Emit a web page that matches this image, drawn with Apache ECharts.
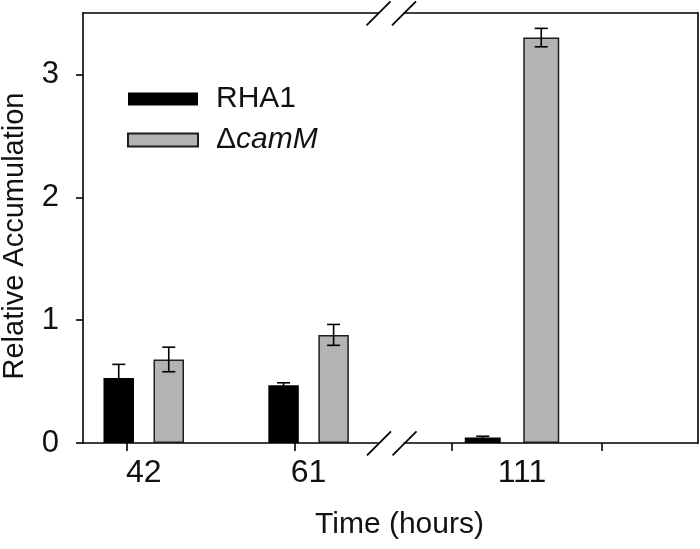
<!DOCTYPE html>
<html><head><meta charset="utf-8">
<script src="https://cdn.jsdelivr.net/npm/echarts@6/dist/echarts.min.js"></script>
<style>html,body{margin:0;padding:0;background:#fff}#c{width:700px;height:549px}</style>
</head><body><div id="c"></div>
<script>
// ---- data ----
const seriesNames = ['RHA1', 'ΔcamM'];
const hoursLeft = [42, 61];
const hoursRight = [111];
const rha1Left = [0.53, 0.47];
const rha1LeftErr = [0.11, 0.02];
const camMLeft = [0.68, 0.88];
const camMLeftErr = [0.10, 0.085];
const rha1Right = [0.045];
const rha1RightErr = [0.01];
const camMRight = [3.30];
const camMRightErr = [0.075];
const yTicks = [0, 1, 2, 3];
const tickHoursLeft = [40, 59.4];
const tickHoursRight = [101, 126];

// ---- styles ----
const FONT = "'Liberation Sans', Arial, sans-serif";
const INK = '#111';
const GRAY = '#b3b3b3';
const LW = 1.6;
const capHalf = 6.5;
const barWLeft = 30.5, gapLeft = 0.64;
const barWRight = 36, gapRight = 0.625;
const offLeft = barWLeft * (1 + gapLeft) / 2;
const offRight = barWRight * (1 + gapRight) / 2;

function pairs(xs, ys) { return xs.map((x, i) => [x, ys[i]]); }
function triples(xs, ys, es) { return xs.map((x, i) => [x, ys[i], es[i]]); }

function errRender(offset) {
  return function (params, api) {
    const x = api.value(0), y = api.value(1), e = api.value(2);
    const hi = api.coord([x, y + e]);
    const lo = api.coord([x, y - e]);
    const cx = hi[0] + offset;
    const style = { stroke: '#000', lineWidth: LW };
    return { type: 'group', children: [
      { type: 'line', shape: { x1: cx, y1: hi[1], x2: cx, y2: lo[1] }, style },
      { type: 'line', shape: { x1: cx - capHalf, y1: hi[1], x2: cx + capHalf, y2: hi[1] }, style },
      { type: 'line', shape: { x1: cx - capHalf, y1: lo[1], x2: cx + capHalf, y2: lo[1] }, style }
    ]};
  };
}

const lineStyle = { color: '#000', width: LW };
function frameAxis(gridIndex, min, max) {
  return { type: 'value', gridIndex, position: 'top', min, max,
    axisLine: { show: true, onZero: false, lineStyle }, axisTick: { show: false },
    axisLabel: { show: false }, splitLine: { show: false } };
}
function bottomAxis(gridIndex, min, max, ticks, labels, shift) {
  return { type: 'value', gridIndex, position: 'bottom', min, max,
    axisLine: { show: true, onZero: false, lineStyle },
    axisTick: { show: true, length: 8, lineStyle, customValues: ticks },
    axisLabel: { show: true, customValues: labels, color: INK, margin: 14,
      formatter: v => '{t|' + v + '}',
      rich: { t: { fontSize: 32, color: INK, fontFamily: FONT, padding: [0, 0, 0, shift] } } },
    splitLine: { show: false } };
}

const chart = echarts.init(document.getElementById('c'), null, { renderer: 'canvas' });
const grid = (left, right) => ({ left, right, top: 13, bottom: 106, containLabel: false, outerBoundsMode: 'none' });

chart.setOption({
  animation: false,
  backgroundColor: '#fff',
  textStyle: { fontFamily: FONT },
  grid: [grid(83, 322), grid(404, 2)],
  xAxis: [
    bottomAxis(0, 35, 69, tickHoursLeft, hoursLeft, 0),
    frameAxis(0, 35, 69),
    bottomAxis(1, 93, 142, tickHoursRight, hoursRight, 20),
    frameAxis(1, 93, 142)
  ],
  yAxis: [
    { type: 'value', gridIndex: 0, min: 0, max: 3.5, position: 'left',
      axisLine: { show: true, onZero: false, lineStyle },
      axisTick: { show: true, length: 7, lineStyle, customValues: yTicks },
      axisLabel: { show: true, customValues: yTicks, fontSize: 31, color: INK, fontFamily: FONT, margin: 24 },
      splitLine: { show: false },
      name: 'Relative Accumulation', nameLocation: 'middle', nameGap: 54,
      nameTextStyle: { fontSize: 29, color: INK, fontFamily: FONT, padding: [0, 16, 0, 0] } },
    { type: 'value', gridIndex: 1, min: 0, max: 3.5, position: 'right',
      axisLine: { show: true, onZero: false, lineStyle }, axisTick: { show: false },
      axisLabel: { show: false }, splitLine: { show: false } }
  ],
  legend: {
    data: seriesNames, orient: 'vertical', left: 127, top: 84, padding: 0,
    itemWidth: 70, itemHeight: 13, itemGap: 11, selectedMode: false, icon: 'rect',
    formatter: function (n) { return n === 'ΔcamM' ? '{d|Δ}{i|camM}' : '{d|' + n + '}'; },
    textStyle: { fontSize: 30, color: INK, fontFamily: FONT, lineHeight: 28, padding: [0, 0, 0, 13],
      rich: { d: { fontSize: 30, color: INK, fontFamily: FONT }, i: { fontSize: 30, fontStyle: 'italic', color: INK, fontFamily: FONT } } }
  },
  graphic: [
    [378.5, 13.3], [404, 13.3], [379, 443.3], [404.5, 443.3]
  ].map(p => ({ type: 'line', silent: true, z: 100,
    shape: { x1: p[0] - 12, y1: p[1] + 12, x2: p[0] + 12, y2: p[1] - 12 },
    style: { stroke: '#000', lineWidth: 1.8 } })).concat([
    { type: 'text', silent: true,
      style: { text: 'Time (hours)', x: 399.5, y: 525, align: 'center', verticalAlign: 'middle', fontSize: 30, fill: INK, fontFamily: FONT } }
  ]),
  series: [
    { name: 'RHA1', type: 'bar', xAxisIndex: 0, yAxisIndex: 0, data: pairs(hoursLeft, rha1Left),
      barWidth: barWLeft, barGap: (gapLeft * 100) + '%', itemStyle: { color: '#000', borderWidth: 0 } },
    { name: 'ΔcamM', type: 'bar', xAxisIndex: 0, yAxisIndex: 0, data: pairs(hoursLeft, camMLeft),
      barWidth: barWLeft, barGap: (gapLeft * 100) + '%', itemStyle: { color: GRAY, borderColor: '#1e1e1e', borderWidth: 1.5 } },
    { name: 'RHA1', type: 'bar', xAxisIndex: 2, yAxisIndex: 1, data: pairs(hoursRight, rha1Right),
      barWidth: barWRight, barGap: (gapRight * 100) + '%', itemStyle: { color: '#000', borderWidth: 0 } },
    { name: 'ΔcamM', type: 'bar', xAxisIndex: 2, yAxisIndex: 1, data: pairs(hoursRight, camMRight),
      barWidth: barWRight, barGap: (gapRight * 100) + '%', itemStyle: { color: GRAY, borderColor: '#1e1e1e', borderWidth: 1.5 } },
    { name: 'errA', type: 'custom', xAxisIndex: 0, yAxisIndex: 0, z: 10, renderItem: errRender(-offLeft),
      encode: { x: 0, y: 1 }, data: triples(hoursLeft, rha1Left, rha1LeftErr) },
    { name: 'errB', type: 'custom', xAxisIndex: 0, yAxisIndex: 0, z: 10, renderItem: errRender(offLeft),
      encode: { x: 0, y: 1 }, data: triples(hoursLeft, camMLeft, camMLeftErr) },
    { name: 'errC', type: 'custom', xAxisIndex: 2, yAxisIndex: 1, z: 10, renderItem: errRender(-offRight),
      encode: { x: 0, y: 1 }, data: triples(hoursRight, rha1Right, rha1RightErr) },
    { name: 'errD', type: 'custom', xAxisIndex: 2, yAxisIndex: 1, z: 10, renderItem: errRender(offRight),
      encode: { x: 0, y: 1 }, data: triples(hoursRight, camMRight, camMRightErr) }
  ]
});
</script></body></html>
